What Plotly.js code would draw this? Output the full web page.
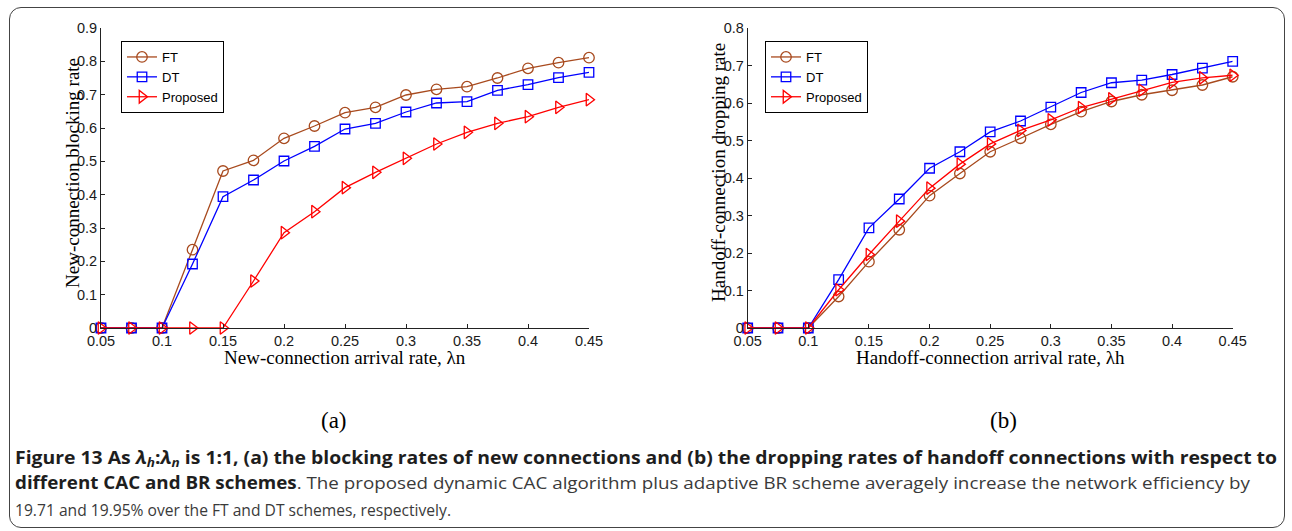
<!DOCTYPE html>
<html><head><meta charset="utf-8">
<script src="https://cdn.plot.ly/plotly-3.0.1.min.js"></script>
<style>
html,body{margin:0;padding:0;background:#fff;}
#wrap{position:relative;width:1292px;height:531px;overflow:hidden;background:#fff;}
#chart{position:absolute;left:0;top:0;width:1292px;height:531px;}
#frame{position:absolute;left:9px;top:7px;width:1274px;height:519px;border:1.3px solid #444;border-radius:12px;pointer-events:none;}
.ln{position:absolute;left:14.5px;white-space:nowrap;font-family:'Open Sans','Noto Sans',sans-serif;font-size:17px;line-height:20px;transform-origin:0 50%;color:#3a3a3a;}
.ln b{color:#1e1e1e;font-weight:700;}
.ln sub{font-size:70%;vertical-align:-3px;line-height:0;}
</style></head>
<body>
<div id="wrap">
<div id="chart"></div>
<div id="frame"></div>
<div class="ln" id="l1" data-w="1262" style="top:448px"><b>Figure 13 As <i>λ<sub>h</sub></i>:<i>λ<sub>n</sub></i> is 1:1, (a) the blocking rates of new connections and (b) the dropping rates of handoff connections with respect to</b></div>
<div class="ln" id="l2" data-w="1235" style="top:473px"><b>different CAC and BR schemes</b>. The proposed dynamic CAC algorithm plus adaptive BR scheme averagely increase the network efficiency by</div>
<div class="ln" id="l3" data-w="436" style="top:500px">19.71 and 19.95% over the FT and DT schemes, respectively.</div>
</div>
<script>
// ---- data ----
const xs = [0.05,0.075,0.1,0.125,0.15,0.175,0.2,0.225,0.25,0.275,0.3,0.325,0.35,0.375,0.4,0.425,0.45];
const ftNew = [0,0,0,0.235,0.471,0.503,0.569,0.606,0.646,0.662,0.699,0.716,0.724,0.750,0.779,0.796,0.811];
const dtNew = [0,0,0,0.192,0.394,0.444,0.501,0.545,0.597,0.614,0.648,0.675,0.679,0.713,0.730,0.751,0.767];
const prNew = [0,0,0,0,0,0.141,0.286,0.349,0.421,0.467,0.509,0.552,0.587,0.614,0.634,0.662,0.685];
const ftHo = [0,0,0,0.084,0.177,0.262,0.353,0.412,0.470,0.506,0.543,0.577,0.604,0.622,0.634,0.648,0.670];
const dtHo = [0,0,0,0.129,0.267,0.344,0.426,0.470,0.523,0.552,0.589,0.628,0.654,0.661,0.676,0.693,0.711];
const prHo = [0,0,0,0.102,0.196,0.285,0.373,0.437,0.491,0.527,0.555,0.588,0.611,0.634,0.655,0.667,0.674];
const seriesNames = ['FT','DT','Proposed'];
const xTickVals = [0.05,0.1,0.15,0.2,0.25,0.3,0.35,0.4,0.45];
const xTickText = ['0.05','0.1','0.15','0.2','0.25','0.3','0.35','0.4','0.45'];
const yTickValsA = [0,0.1,0.2,0.3,0.4,0.5,0.6,0.7,0.8,0.9];
const yTickTextA = ['0','0.1','0.2','0.3','0.4','0.5','0.6','0.7','0.8','0.9'];
const yTickValsB = [0,0.1,0.2,0.3,0.4,0.5,0.6,0.7,0.8];
const yTickTextB = ['0','0.1','0.2','0.3','0.4','0.5','0.6','0.7','0.8'];

const W = 1292, H = 531;
const px = v => v / W, py = v => 1 - v / H;
const colors = ['#A84A1E', '#0000FF', '#FF0000'];
const symbols = ['circle-open', 'square-open', 'triangle-right-open'];
const sizes = [10.5, 9.5, 11];

function mk(name, y, i, xa, ya, lg) {
  return {
    x: xs, y: y, name: name, type: 'scatter', mode: 'lines+markers',
    xaxis: xa, yaxis: ya, legend: lg, cliponaxis: false,
    line: {color: colors[i], width: 1.3},
    marker: {symbol: symbols[i], size: sizes[i], color: colors[i], line: {color: colors[i], width: 1.3}}
  };
}
const data = [
  mk(seriesNames[0], ftNew, 0, 'x', 'y', 'legend'),
  mk(seriesNames[1], dtNew, 1, 'x', 'y', 'legend'),
  mk(seriesNames[2], prNew, 2, 'x', 'y', 'legend'),
  mk(seriesNames[0], ftHo, 0, 'x2', 'y2', 'legend2'),
  mk(seriesNames[1], dtHo, 1, 'x2', 'y2', 'legend2'),
  mk(seriesNames[2], prHo, 2, 'x2', 'y2', 'legend2')
];

const tickFont = {family: 'Liberation Sans, Arial, sans-serif', size: 14.5, color: '#1a1a1a'};
const axBase = {showgrid: false, zeroline: false, showline: true, linecolor: '#222', linewidth: 1,
  ticks: 'inside', ticklen: 4, tickwidth: 1, tickcolor: '#222', tickfont: tickFont, fixedrange: true};
const yDom = [py(328), py(28)];
const serif = {family: 'Liberation Serif, Times New Roman, serif', size: 19, color: '#000'};
const legBase = {bgcolor: '#fff', bordercolor: '#000', borderwidth: 1,
  font: {family: 'Liberation Sans, Arial, sans-serif', size: 13, color: '#000'},
  xanchor: 'left', yanchor: 'top', tracegroupgap: 0, itemwidth: 30};

const layout = {
  width: W, height: H, margin: {l: 0, r: 0, t: 0, b: 0},
  paper_bgcolor: 'rgba(0,0,0,0)', plot_bgcolor: 'rgba(0,0,0,0)', showlegend: true,
  xaxis: Object.assign({}, axBase, {domain: [px(101), px(589)], range: [0.05, 0.45], anchor: 'y', tickvals: xTickVals, ticktext: xTickText}),
  yaxis: Object.assign({}, axBase, {domain: yDom, range: [0, 0.9], anchor: 'x', tickvals: yTickValsA, ticktext: yTickTextA}),
  xaxis2: Object.assign({}, axBase, {domain: [px(747.7), px(1232.7)], range: [0.05, 0.45], anchor: 'y2', tickvals: xTickVals, ticktext: xTickText}),
  yaxis2: Object.assign({}, axBase, {domain: yDom, range: [0, 0.8], anchor: 'x2', tickvals: yTickValsB, ticktext: yTickTextB}),
  legend: Object.assign({}, legBase, {x: px(121), y: py(41)}),
  legend2: Object.assign({}, legBase, {x: px(765), y: py(41)}),
  annotations: [
    {text: 'New-connection arrival rate, λn', xref: 'paper', yref: 'paper', x: px(345), y: py(357), showarrow: false, font: serif, xanchor: 'center', yanchor: 'middle'},
    {text: 'Handoff-connection arrival rate, λh', xref: 'paper', yref: 'paper', x: px(990), y: py(357), showarrow: false, font: serif, xanchor: 'center', yanchor: 'middle'},
    {text: 'New-connection blocking rate', xref: 'paper', yref: 'paper', x: px(72), y: py(173), textangle: -90, showarrow: false, font: serif, xanchor: 'center', yanchor: 'middle'},
    {text: 'Handoff-connection dropping rate', xref: 'paper', yref: 'paper', x: px(718), y: py(173), textangle: -90, showarrow: false, font: serif, xanchor: 'center', yanchor: 'middle'},
    {text: '(a)', xref: 'paper', yref: 'paper', x: px(334), y: py(420), showarrow: false, font: {family: 'Liberation Serif, Times New Roman, serif', size: 23, color: '#000'}, xanchor: 'center', yanchor: 'middle'},
    {text: '(b)', xref: 'paper', yref: 'paper', x: px(1003), y: py(420), showarrow: false, font: {family: 'Liberation Serif, Times New Roman, serif', size: 23, color: '#000'}, xanchor: 'center', yanchor: 'middle'}
  ]
};

Plotly.newPlot('chart', data, layout, {displayModeBar: false, staticPlot: true});

function fitLines() {
  document.querySelectorAll('.ln').forEach(el => {
    el.style.transform = 'none';
    const w = el.getBoundingClientRect().width;
    const t = parseFloat(el.dataset.w);
    if (w > 0) el.style.transform = 'scaleX(' + (t / w) + ')';
  });
}
if (document.fonts && document.fonts.ready) document.fonts.ready.then(fitLines);
fitLines();
</script>
</body></html>
